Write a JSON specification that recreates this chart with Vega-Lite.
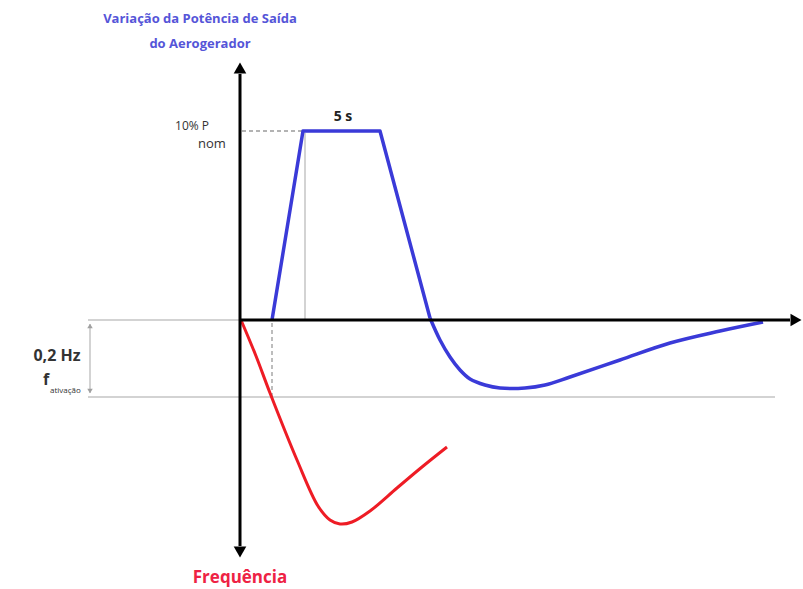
{
  "$schema": "https://vega.github.io/schema/vega-lite/v6.json",
  "width": 803,
  "height": 589,
  "autosize": {"type": "fit", "contains": "padding"},
  "padding": 0,
  "background": "white",
  "config": {"view": {"stroke": null}},
  "datasets": {
    "graySolid": [
      {"x": 88, "y": 320, "x2": 775, "y2": 320},
      {"x": 88, "y": 397, "x2": 775, "y2": 397},
      {"x": 305, "y": 133, "x2": 305, "y2": 320},
      {"x": 90, "y": 324, "x2": 90, "y2": 393}
    ],
    "grayDashed": [
      {"x": 242, "y": 131, "x2": 302, "y2": 131},
      {"x": 272, "y": 323, "x2": 272, "y2": 397}
    ],
    "axes": [
      {"x": 240, "y": 74, "x2": 240, "y2": 546},
      {"x": 240, "y": 320, "x2": 790, "y2": 320}
    ],
    "arrows": [
      {"x": 240, "y": 68, "shape": "triangle-up"},
      {"x": 240, "y": 552, "shape": "triangle-down"},
      {"x": 796, "y": 320, "shape": "triangle-right"}
    ],
    "smallArrows": [
      {"x": 90, "y": 326, "shape": "triangle-up"},
      {"x": 90, "y": 391, "shape": "triangle-down"}
    ],
    "blueRamp": [
      {"i": 0, "x": 272, "y": 320},
      {"i": 1, "x": 303, "y": 131},
      {"i": 2, "x": 380, "y": 131},
      {"i": 3, "x": 430, "y": 318}
    ],
    "blueTail": [
      {"i": 0, "x": 430, "y": 318},
      {"i": 1, "x": 440, "y": 340},
      {"i": 2, "x": 450, "y": 357},
      {"i": 3, "x": 460, "y": 370},
      {"i": 4, "x": 470, "y": 379},
      {"i": 5, "x": 485, "y": 385},
      {"i": 6, "x": 500, "y": 388},
      {"i": 7, "x": 525, "y": 388},
      {"i": 8, "x": 545, "y": 385},
      {"i": 9, "x": 570, "y": 377},
      {"i": 10, "x": 620, "y": 360},
      {"i": 11, "x": 670, "y": 343},
      {"i": 12, "x": 720, "y": 331},
      {"i": 13, "x": 763, "y": 322}
    ],
    "red": [
      {"i": 0, "x": 241, "y": 320},
      {"i": 1, "x": 256, "y": 356},
      {"i": 2, "x": 270, "y": 393},
      {"i": 3, "x": 297, "y": 460},
      {"i": 4, "x": 318, "y": 506},
      {"i": 5, "x": 330, "y": 520},
      {"i": 6, "x": 340, "y": 524},
      {"i": 7, "x": 352, "y": 522},
      {"i": 8, "x": 370, "y": 511},
      {"i": 9, "x": 397, "y": 488},
      {"i": 10, "x": 422, "y": 467},
      {"i": 11, "x": 447, "y": 447}
    ],
    "titleText": [
      {"x": 200, "y": 19, "text": "Variação da Potência de Saída"},
      {"x": 200, "y": 44, "text": "do Aerogerador"}
    ],
    "pText": [{"x": 209, "y": 126, "text": "10% P"}],
    "nomText": [{"x": 198, "y": 144, "text": "nom"}],
    "fiveText": [{"x": 343, "y": 117, "text": "5 s"}],
    "hzText": [{"x": 57, "y": 356, "text": "0,2 Hz"}],
    "fText": [{"x": 46, "y": 380, "text": "f"}],
    "ativText": [{"x": 50, "y": 391, "text": "ativação"}],
    "freqText": [{"x": 240, "y": 578, "text": "Frequência"}]
  },
  "encoding": {
    "x": {"field": "x", "type": "quantitative", "scale": {"domain": [0, 803], "nice": false, "zero": false}, "axis": null},
    "y": {"field": "y", "type": "quantitative", "scale": {"domain": [0, 589], "nice": false, "zero": false, "reverse": true}, "axis": null}
  },
  "layer": [
    {
      "data": {"name": "graySolid"},
      "mark": {"type": "rule", "color": "#c4c4c4", "strokeWidth": 1.5},
      "encoding": {"x2": {"field": "x2"}, "y2": {"field": "y2"}}
    },
    {
      "data": {"name": "grayDashed"},
      "mark": {"type": "rule", "color": "#9a9a9a", "strokeWidth": 1.3, "strokeDash": [4, 3]},
      "encoding": {"x2": {"field": "x2"}, "y2": {"field": "y2"}}
    },
    {
      "data": {"name": "smallArrows"},
      "mark": {"type": "point", "filled": true, "color": "#a0a0a0", "size": 30, "opacity": 1},
      "encoding": {"shape": {"field": "shape", "type": "nominal", "scale": null}}
    },
    {
      "data": {"name": "red"},
      "mark": {"type": "line", "color": "#ee1c25", "strokeWidth": 3, "interpolate": "catmull-rom"},
      "encoding": {"order": {"field": "i", "type": "quantitative"}}
    },
    {
      "data": {"name": "blueRamp"},
      "mark": {"type": "line", "color": "#3a3ad8", "strokeWidth": 3.5, "interpolate": "linear", "strokeJoin": "round"},
      "encoding": {"order": {"field": "i", "type": "quantitative"}}
    },
    {
      "data": {"name": "blueTail"},
      "mark": {"type": "line", "color": "#3a3ad8", "strokeWidth": 3.5, "interpolate": "catmull-rom"},
      "encoding": {"order": {"field": "i", "type": "quantitative"}}
    },
    {
      "data": {"name": "axes"},
      "mark": {"type": "rule", "color": "#000000", "strokeWidth": 3},
      "encoding": {"x2": {"field": "x2"}, "y2": {"field": "y2"}}
    },
    {
      "data": {"name": "arrows"},
      "mark": {"type": "point", "filled": true, "color": "#000000", "size": 160, "opacity": 1},
      "encoding": {"shape": {"field": "shape", "type": "nominal", "scale": null}}
    },
    {
      "data": {"name": "titleText"},
      "mark": {"type": "text", "font": "Open Sans", "fontSize": 13, "fontWeight": "bold", "color": "#5555d8", "align": "center", "baseline": "middle"},
      "encoding": {"text": {"field": "text"}}
    },
    {
      "data": {"name": "pText"},
      "mark": {"type": "text", "font": "Open Sans", "fontSize": 12, "color": "#333333", "align": "right", "baseline": "middle"},
      "encoding": {"text": {"field": "text"}}
    },
    {
      "data": {"name": "nomText"},
      "mark": {"type": "text", "font": "Open Sans", "fontSize": 13, "color": "#333333", "align": "left", "baseline": "middle"},
      "encoding": {"text": {"field": "text"}}
    },
    {
      "data": {"name": "fiveText"},
      "mark": {"type": "text", "font": "Open Sans", "fontSize": 14, "fontWeight": "bold", "color": "#222222", "align": "center", "baseline": "middle"},
      "encoding": {"text": {"field": "text"}}
    },
    {
      "data": {"name": "hzText"},
      "mark": {"type": "text", "font": "Open Sans", "fontSize": 16, "fontWeight": "bold", "color": "#333333", "align": "center", "baseline": "middle"},
      "encoding": {"text": {"field": "text"}}
    },
    {
      "data": {"name": "fText"},
      "mark": {"type": "text", "font": "Open Sans", "fontSize": 16, "fontWeight": "bold", "color": "#333333", "align": "center", "baseline": "middle"},
      "encoding": {"text": {"field": "text"}}
    },
    {
      "data": {"name": "ativText"},
      "mark": {"type": "text", "font": "Open Sans", "fontSize": 8, "color": "#333333", "align": "left", "baseline": "middle"},
      "encoding": {"text": {"field": "text"}}
    },
    {
      "data": {"name": "freqText"},
      "mark": {"type": "text", "font": "Open Sans", "fontSize": 17, "fontWeight": "bold", "color": "#ee2244", "align": "center", "baseline": "middle"},
      "encoding": {"text": {"field": "text"}}
    }
  ]
}
